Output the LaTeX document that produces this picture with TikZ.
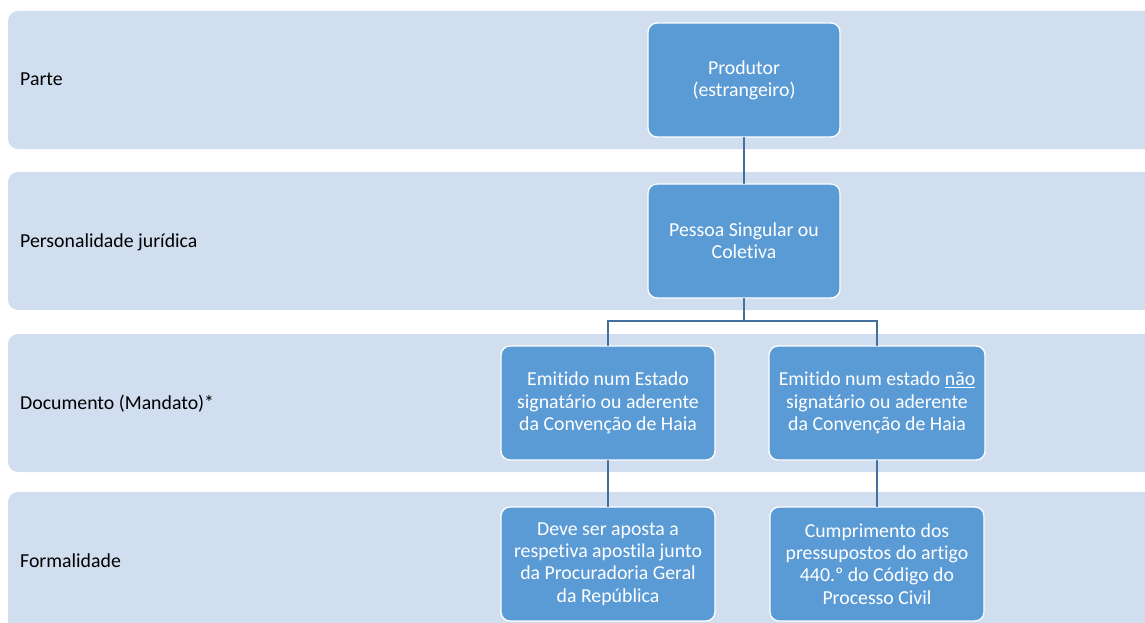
\documentclass[tikz,border=0pt]{standalone}
\usepackage{fontspec}
\setmainfont{Carlito}[RawFeature=-liga]
\usepackage{xcolor}
\definecolor{bandblue}{RGB}{209,222,239}
\definecolor{boxblue}{RGB}{91,155,213}
\definecolor{linkblue}{RGB}{65,113,156}

\begin{document}
\begin{tikzpicture}[x=1pt,y=-1pt,line cap=round]
	\tikzstyle{band}=[fill=bandblue,rounded corners=10pt];
	\tikzstyle{lbl}=[anchor=base west,inner sep=0pt,font=\fontsize{19.8}{22}\selectfont];
	\tikzstyle{box}=[draw=white,line width=1.3pt,fill=boxblue,rounded corners=9pt,text=white,align=center,minimum height=114pt,font=\fontsize{19.8}{22.3}\selectfont];
	\tikzstyle{link}=[draw=linkblue,line width=1.3pt];
	\useasboundingbox (0,0) rectangle (1145,623);
	\clip (0,0) rectangle (1145,623);
	% bands
	\fill[band] (8,11) rectangle (1170,149);
	\fill[band] (8,172) rectangle (1170,310);
	\fill[band] (8,334) rectangle (1170,472);
	\fill[band] (8,492) rectangle (1170,640);
	\node[lbl] (parte) at (20,86)  {Parte};
	\node[lbl] (pers)  at (20,247) {Personalidade jurídica};
	\node[lbl] (docu)  at (20,409) {Documento (Mandato)*};
	\node[lbl] (form)  at (20,567) {Formalidade};
	% boxes
	\node[box,minimum width=192pt] (prod) at (744,80)  {Produtor\\(estrangeiro)};
	\node[box,minimum width=192pt] (pess) at (744,241) {Pessoa Singular ou\\Coletiva};
	\node[box,minimum width=214pt] (doc1) at (608,403) {Emitido num Estado\\signatário ou aderente\\da Convenção de Haia};
	\node[box,minimum width=216pt] (doc2) at (877,403) {Emitido num estado \underline{não}\\signatário ou aderente\\da Convenção de Haia};
	\node[box,minimum width=214pt] (form1) at (608,564) {Deve ser aposta a\\respetiva apostila junto\\da Procuradoria Geral\\da República};
	\node[box,minimum width=214pt] (form2) at (877,564) {Cumprimento dos\\pressupostos do artigo\\440.º do Código do\\Processo Civil};
	% links
	\coordinate (split) at (744,321);
	\draw[link] (prod) -- (pess);
	\draw[link] (pess) -- (split) -| (doc1);
	\draw[link] (split) -| (doc2);
	\draw[link] (doc1) -- (form1);
	\draw[link] (doc2) -- (form2);
\end{tikzpicture}
\end{document}
